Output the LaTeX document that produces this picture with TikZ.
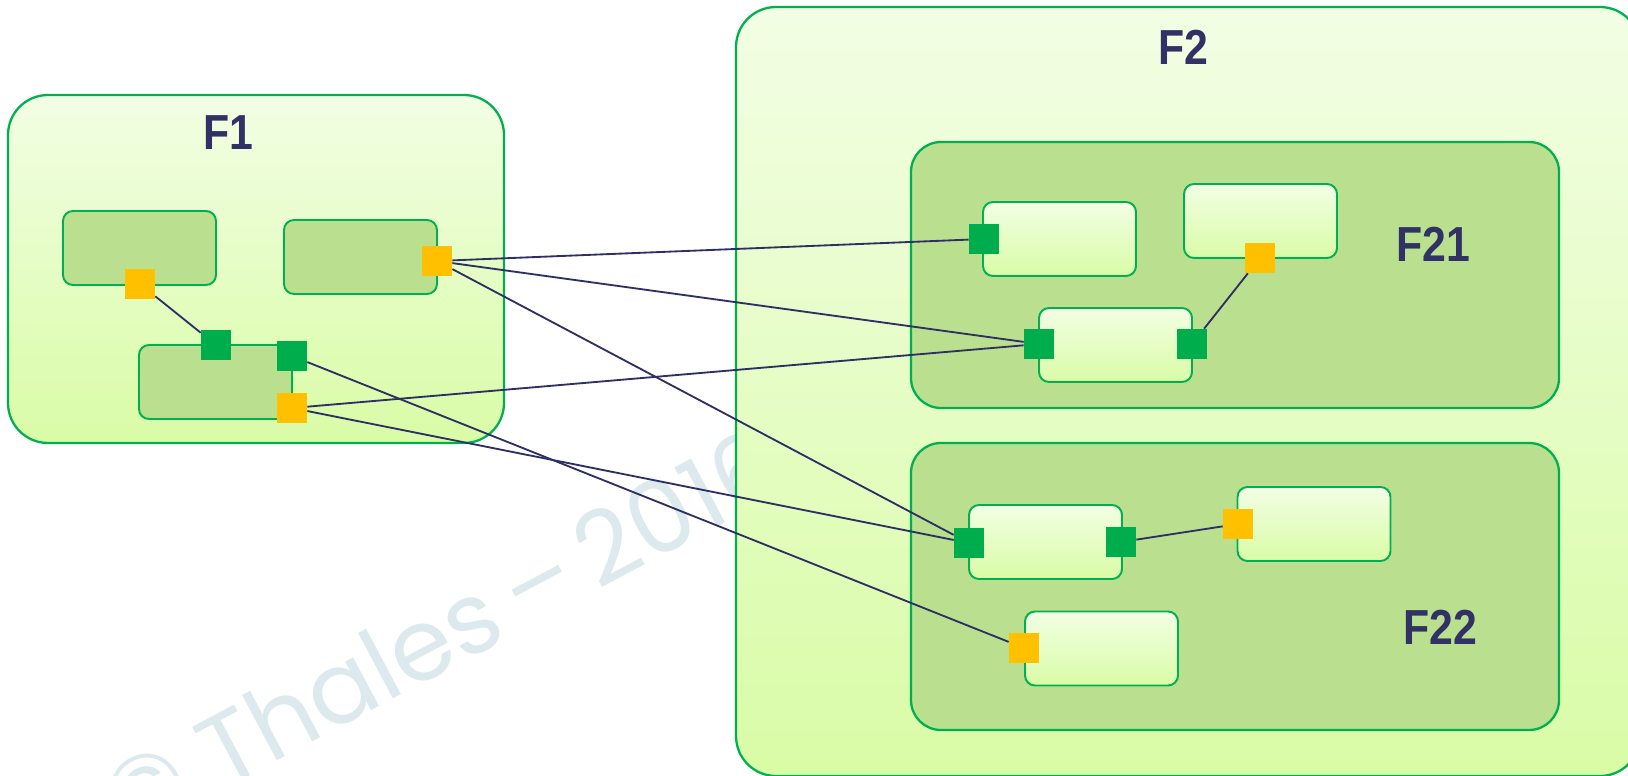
\documentclass[tikz,border=0pt]{standalone}
\usepackage{fontspec}
\setmainfont{Liberation Sans}
\newfontfamily\fnfont[FakeStretch=0.87]{Liberation Sans}
\newfontfamily\wmfont{Poppins}
\usetikzlibrary{positioning}
\usepackage{xcolor}
\definecolor{fxtop}{RGB}{242,254,228}
\definecolor{fxbot}{RGB}{217,252,166}
\definecolor{fxmid}{RGB}{186,224,143}
\definecolor{fxline}{RGB}{0,176,80}
\definecolor{portg}{RGB}{0,173,77}
\definecolor{porto}{RGB}{255,192,0}
\definecolor{wire}{RGB}{46,47,100}
\definecolor{lbl}{RGB}{48,50,102}
\definecolor{wmark}{RGB}{220,233,237}
\def\unit{0.02cm}

\begin{document}
\begin{tikzpicture}[x=\unit, y=-\unit]
	\tikzstyle{function}=[draw=fxline, line width=1.3pt, inner sep=0pt]
	\tikzstyle{outer function}=[function, rounded corners=0.8cm, top color=fxtop, bottom color=fxbot]
	\tikzstyle{sub function}=[function, rounded corners=0.6cm, fill=fxmid]
	\tikzstyle{leaf}=[function, line width=1.1pt, rounded corners=0.2cm, minimum width=153*\unit, minimum height=74*\unit]
	\tikzstyle{leaf light}=[leaf, top color=fxtop, bottom color=fxbot]
	\tikzstyle{leaf dark}=[leaf, fill=fxmid]
	\tikzstyle{port}=[minimum size=30*\unit, inner sep=0pt]
	\tikzstyle{in port}=[port, fill=portg]
	\tikzstyle{out port}=[port, fill=porto]
	\tikzstyle{title}=[text=lbl, inner sep=0pt, font=\fnfont\bfseries\fontsize{28}{30}\selectfont]
	\tikzstyle{link}=[draw=wire, line width=1.05pt]

	\useasboundingbox (0,0) rectangle (1628,776);
	\clip (0,0) rectangle (1628,776);

	% watermark
	\node[text=wmark, rotate=28, font=\wmfont\fontsize{57}{60}\selectfont] (wm) at (442,632) {© Thales\,–\,2016};

	% F1
	\node[outer function, minimum width=496*\unit, minimum height=348*\unit] (F1) at (256,269) {};
	\node[title] (F1-t) at (228,133) {F1};
	\node[leaf dark] (F11) at (139.5,248) {};
	\node[leaf dark] (F12) at (360.5,257) {};
	\node[leaf dark] (F13) at (215.5,382) {};

	% F2
	\node[outer function, minimum width=904*\unit, minimum height=769*\unit] (F2) at (1188,391.5) {};
	\node[title] (F2-t) at (1183,47) {F2};

	\node[sub function, minimum width=648*\unit, minimum height=266*\unit] (F21) at (1235,275) {};
	\node[title] (F21-t) at (1433,244) {F21};
	\node[leaf light] (F211) at (1059.5,239) {};
	\node[leaf light] (F212) at (1260.5,221) {};
	\node[leaf light] (F213) at (1115.5,345) {};

	\node[sub function, minimum width=648*\unit, minimum height=287*\unit] (F22) at (1235,586.5) {};
	\node[title] (F22-t) at (1440,627) {F22};
	\node[leaf light] (F221) at (1045.5,542) {};
	\node[leaf light] (F222) at (1314,524) {};
	\node[leaf light] (F223) at (1101.5,648.5) {};

	% ports
	\node[out port] (P11-o) at (140,284) {};
	\node[out port] (P12-o) at (437,261) {};
	\node[in port] (P13-i) at (216,345) {};
	\node[in port] (P13-i2) at (292,356) {};
	\node[out port] (P13-o) at (292,408) {};

	\node[in port] (P211-i) at (984,239) {};
	\node[out port] (P212-o) at (1260,258) {};
	\node[in port] (P213-i) at (1039,344) {};
	\node[in port] (P213-i2) at (1192,344) {};

	\node[in port] (P221-i) at (969,543) {};
	\node[in port] (P221-i2) at (1121,542) {};
	\node[out port] (P222-o) at (1238,524) {};
	\node[out port] (P223-o) at (1024,648) {};

	% exchanges
	\draw[link] (P11-o) -- (P13-i);
	\draw[link] (P12-o) -- (P211-i);
	\draw[link] (P12-o) -- (P213-i);
	\draw[link] (P12-o) -- (P221-i);
	\draw[link] (P13-o) -- (P213-i);
	\draw[link] (P13-o) -- (P221-i);
	\draw[link] (P13-i2) -- (P223-o);
	\draw[link] (P213-i2) -- (P212-o);
	\draw[link] (P221-i2) -- (P222-o);
\end{tikzpicture}
\end{document}
